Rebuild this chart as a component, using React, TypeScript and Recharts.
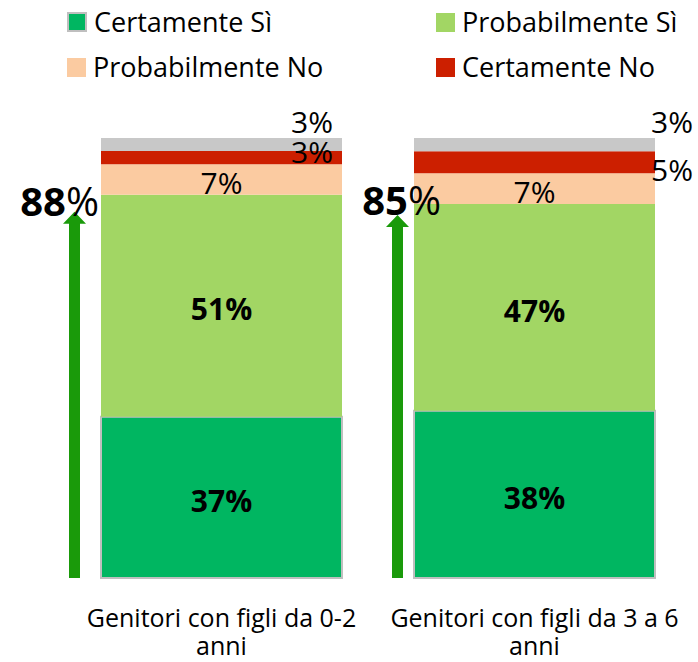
import { BarChart, Bar, XAxis, YAxis, Legend, LabelList } from 'recharts'

const categories = ['Genitori con figli da 0-2 anni', 'Genitori con figli da 3 a 6 anni']
const certamenteSi = [37, 38]
const probabilmenteSi = [51, 47]
const probabilmenteNo = [7, 7]
const certamenteNo = [3, 5]
const nonSa = [3, 3]
const totaleSi = [88, 85]

const data = categories.map((name, i) => ({
  name,
  certSi: certamenteSi[i],
  probSi: probabilmenteSi[i],
  probNo: probabilmenteNo[i],
  certNo: certamenteNo[i],
  nonSa: nonSa[i],
  totSi: totaleSi[i],
}))

const FONT = '"Open Sans", sans-serif'

const series = [
  { key: 'certSi', name: 'Certamente Sì', color: '#00B661', stroke: '#BFBFBF' },
  { key: 'probSi', name: 'Probabilmente Sì', color: '#A2D664' },
  { key: 'probNo', name: 'Probabilmente No', color: '#FBCBA1' },
  { key: 'certNo', name: 'Certamente No', color: '#CC1F00' },
]

// hand-placed label offsets (the original has them nudged by hand)
const SIDE = [{ dx: -9, dy: -6 }, { dx: 38, dy: 7.5 }]
const ANNOT = [
  { arrowDx: -26.5, arrowDy: 17, textDx: -2, textDy: 21 },
  { arrowDx: -16.5, arrowDy: 11, textDx: 27, textDy: 11 },
]

const box = (p: any) => p.viewBox ?? p

const centerLabel = (bold: boolean) => (p: any) => {
  const { x, y, width, height } = box(p)
  return (
    <text x={x + width / 2} y={y + height / 2 + 3} textAnchor="middle" dominantBaseline="central"
      fontFamily={FONT} fontSize={30} fontWeight={bold ? 700 : 400} fill="#000">
      {p.value}%
    </text>
  )
}

const redLabel = (p: any) => {
  const { x, y, width, height } = box(p)
  const s = SIDE[p.index] ?? SIDE[0]
  return (
    <text x={x + width + s.dx} y={y + height / 2 + s.dy} textAnchor="end" dominantBaseline="central"
      fontFamily={FONT} fontSize={30} fill="#000">
      {p.value}%
    </text>
  )
}

const greyLabel = (p: any) => {
  const { x, y, width } = box(p)
  const s = SIDE[p.index] ?? SIDE[0]
  return (
    <text x={x + width + s.dx} y={y - 5} textAnchor="end" fontFamily={FONT} fontSize={30} fill="#000">
      {p.value}%
    </text>
  )
}

const totalAnnotation = (p: any) => {
  const { x, y, height } = box(p)
  const d = data[p.index]
  const a = ANNOT[p.index] ?? ANNOT[0]
  const unit = height / d.nonSa
  const top = y + height + (d.certNo + d.probNo) * unit
  const bottom = top + (d.probSi + d.certSi) * unit
  const cx = x + a.arrowDx
  const apex = top + a.arrowDy
  const pts = [
    [cx, apex], [cx + 11.5, apex + 12], [cx + 5.5, apex + 12], [cx + 5.5, bottom],
    [cx - 5.5, bottom], [cx - 5.5, apex + 12], [cx - 11.5, apex + 12],
  ].map((q) => q.join(',')).join(' ')
  return (
    <g>
      <polygon points={pts} fill="#1A9A0A" />
      <text x={x + a.textDx} y={top + a.textDy} textAnchor="end" fontFamily={FONT} fontSize={40} fill="#000">
        <tspan fontWeight={700}>{p.value}</tspan>
        <tspan>%</tspan>
      </text>
    </g>
  )
}

function CategoryTick({ x, y, payload }: any) {
  const words = String(payload.value).split(' ')
  const last = words.pop()
  return (
    <text x={x} y={y} textAnchor="middle" fontFamily={FONT} fontSize={25} fill="#000">
      <tspan x={x} dy={49}>{words.join(' ')}</tspan>
      <tspan x={x} dy={28}>{last}</tspan>
    </text>
  )
}

const LEG_X = [67, 436]
const LEG_Y = [12, 57]

function ChartLegend() {
  return (
    <div style={{ position: 'relative', width: 698, height: 90, fontFamily: FONT }}>
      {series.map((s, i) => (
        <div key={s.key} style={{ position: 'absolute', left: LEG_X[i % 2], top: LEG_Y[Math.floor(i / 2)], display: 'flex', alignItems: 'center' }}>
          <span style={{
            width: s.stroke ? 16 : 19, height: s.stroke ? 16 : 19, background: s.color,
            border: s.stroke ? `2px solid ${s.stroke}` : 'none', marginRight: 7, display: 'inline-block',
          }} />
          <span style={{ fontSize: 27, lineHeight: '20px', color: '#000' }}>{s.name}</span>
        </div>
      ))}
    </div>
  )
}

export default function App() {
  return (
    <div style={{ position: 'absolute', left: 0, top: 0, width: 698, height: 662, background: '#fff' }}>
      <BarChart width={698} height={662} data={data} stackOffset="expand" barSize={241}
        margin={{ top: 138, right: 7, bottom: 0, left: 65 }}>
        <XAxis dataKey="name" axisLine={false} tickLine={false} tickSize={0} tickMargin={0}
          height={84} interval={0} tick={<CategoryTick />} />
        <YAxis hide />
        <Legend layout="vertical" align="center" verticalAlign="middle" content={<ChartLegend />}
          wrapperStyle={{ position: 'absolute', left: 0, top: 0, width: 698, height: 90 }} />
        <Bar dataKey="certSi" name="Certamente Sì" stackId="a" fill="#00B661" stroke="#BFBFBF" strokeWidth={2} isAnimationActive={false}>
          <LabelList dataKey="certSi" content={centerLabel(true)} />
        </Bar>
        <Bar dataKey="probSi" name="Probabilmente Sì" stackId="a" fill="#A2D664" isAnimationActive={false}>
          <LabelList dataKey="probSi" content={centerLabel(true)} />
        </Bar>
        <Bar dataKey="probNo" name="Probabilmente No" stackId="a" fill="#FBCBA1" isAnimationActive={false}>
          <LabelList dataKey="probNo" content={centerLabel(false)} />
        </Bar>
        <Bar dataKey="certNo" name="Certamente No" stackId="a" fill="#CC1F00" isAnimationActive={false}>
          <LabelList dataKey="certNo" content={redLabel} />
        </Bar>
        <Bar dataKey="nonSa" name="Non sa" stackId="a" fill="#C8C8C8" legendType="none" isAnimationActive={false}>
          <LabelList dataKey="nonSa" content={greyLabel} />
          <LabelList dataKey="totSi" content={totalAnnotation} />
        </Bar>
      </BarChart>
    </div>
  )
}
